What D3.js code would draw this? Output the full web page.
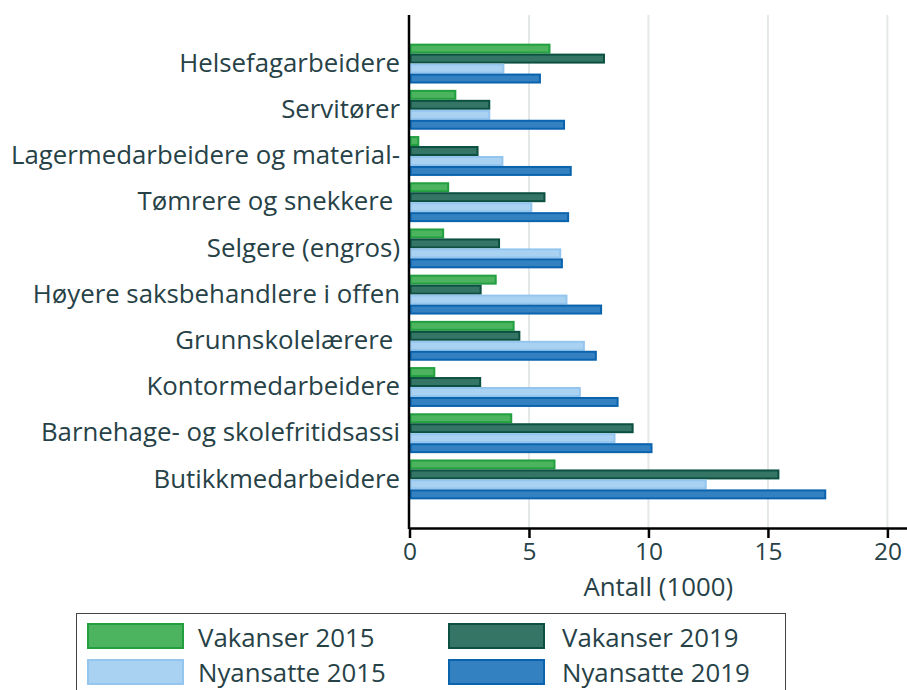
<!DOCTYPE html>
<html><head><meta charset="utf-8">
<script src="https://cdn.jsdelivr.net/npm/d3@7"></script>
<style>
html,body{margin:0;padding:0;background:#fff;}
svg{display:block;font-family:"Open Sans",sans-serif;}
</style></head>
<body>
<svg id="c" width="907" height="690"></svg>
<script>
const categories = ["Helsefagarbeidere","Servitører","Lagermedarbeidere og material-","Tømrere og snekkere ","Selgere (engros)","Høyere saksbehandlere i offen","Grunnskolelærere ","Kontormedarbeidere","Barnehage- og skolefritidsassi","Butikkmedarbeidere"];
const seriesNames = ["Vakanser 2015","Vakanser 2019","Nyansatte 2015","Nyansatte 2019"];
const vakanser2015 = [5.9, 1.96, 0.41, 1.66, 1.45, 3.65, 4.40, 1.08, 4.30, 6.11];
const vakanser2019 = [8.18, 3.38, 2.89, 5.69, 3.79, 3.02, 4.64, 3.00, 9.38, 15.48];
const nyansatte2015 = [3.97, 3.38, 3.93, 5.14, 6.35, 6.61, 7.34, 7.17, 8.62, 12.44];
const nyansatte2019 = [5.50, 6.51, 6.79, 6.68, 6.42, 8.06, 7.84, 8.75, 10.17, 17.44];
const xTicks = [0, 5, 10, 15, 20];
const xTitle = "Antall (1000)";

const seriesValues = [vakanser2015, vakanser2019, nyansatte2015, nyansatte2019];
const fills = ["#4cb35f", "#357565", "#a9d2f2", "#3481c1"];
const strokes = ["#22a03f", "#0b5040", "#93c5ee", "#0a63ad"];
const textColor = "#274247";
const fs = 25.8;

const svg = d3.select("#c");
const x = d3.scaleLinear().domain([0, 20.82]).range([409.5, 907]);
const y = d3.scaleBand().domain(categories).range([15, 528]).paddingInner(0.137).paddingOuter(0.62);
const yi = d3.scaleBand().domain(seriesNames).range([0, y.bandwidth()]);

// grid
svg.append("g").selectAll("line").data(xTicks.filter(t => t > 0)).join("line")
  .attr("x1", d => x(d)).attr("x2", d => x(d)).attr("y1", 15).attr("y2", 528)
  .attr("stroke", "#e4e8e7").attr("stroke-width", 2);

// bars
const g = svg.append("g");
categories.forEach((c, i) => {
  seriesNames.forEach((s, j) => {
    const v = seriesValues[j][i];
    g.append("rect")
      .attr("x", x(0) + 1)
      .attr("y", y(c) + yi(s) + 1)
      .attr("width", Math.max(0, x(v) - x(0) - 2))
      .attr("height", yi.bandwidth() - 2)
      .attr("fill", fills[j]).attr("stroke", strokes[j]).attr("stroke-width", 2);
  });
});

// x axis
const xa = svg.append("g").attr("transform", "translate(0,528)")
  .call(d3.axisBottom(x).tickValues(xTicks).tickSize(10).tickSizeOuter(0).tickPadding(5));
xa.select(".domain").attr("stroke", "#000").attr("stroke-width", 2.5);
xa.selectAll(".tick line").attr("stroke", "#000").attr("stroke-width", 2.5);
xa.selectAll(".tick text").attr("fill", textColor).attr("font-size", 24.5).attr("font-family", "Open Sans");

svg.append("text").attr("x", (x(0) + 907) / 2).attr("y", 596)
  .attr("text-anchor", "middle").attr("fill", textColor).attr("font-size", fs)
  .text(xTitle);

// y axis
const ya = svg.append("g").attr("transform", "translate(409,0)")
  .call(d3.axisLeft(y).tickSize(0).tickPadding(9));
ya.select(".domain").attr("stroke", "#000").attr("stroke-width", 2.5).attr("d", "M0,15V529");
ya.selectAll(".tick text").attr("fill", textColor).attr("font-size", fs)
  .attr("font-family", "Open Sans").style("white-space", "pre");

// legend
const lg = svg.append("g");
lg.append("rect").attr("x", 76.5).attr("y", 613.5).attr("width", 709).attr("height", 100)
  .attr("fill", "none").attr("stroke", "#444").attr("stroke-width", 1);
const lx = [87, 448], tx = [198, 562], ly = [623, 659], lb = [646.5, 681.5];
seriesNames.forEach((s, j) => {
  const col = j % 2, row = Math.floor(j / 2);
  lg.append("rect").attr("x", lx[col] + 1).attr("y", ly[row] + 1).attr("width", 95).attr("height", 24)
    .attr("fill", fills[j]).attr("stroke", strokes[j]).attr("stroke-width", 2);
  lg.append("text").attr("x", tx[col]).attr("y", lb[row])
    .attr("fill", textColor).attr("font-size", fs).text(s);
});
</script>
</body></html>
